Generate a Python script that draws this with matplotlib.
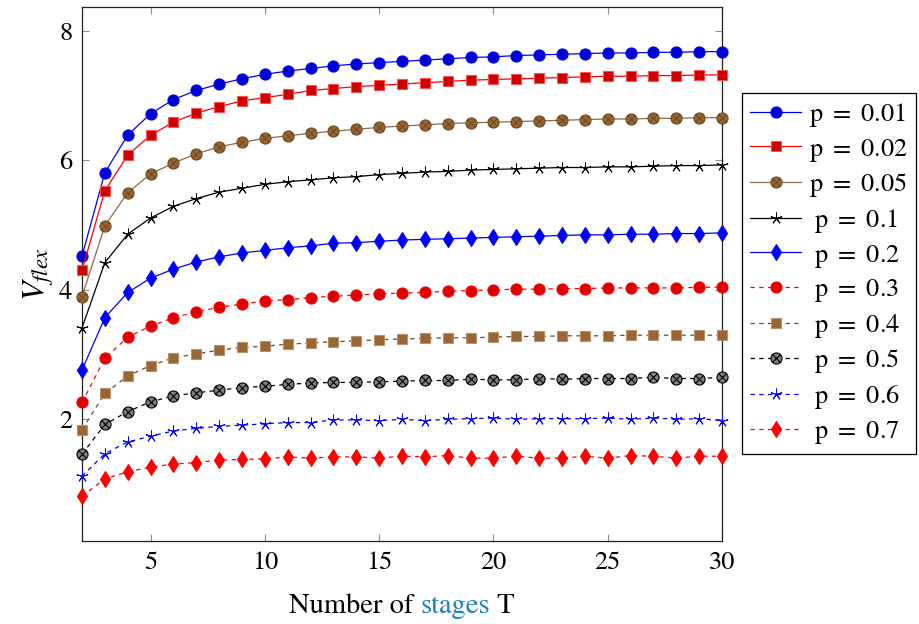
import matplotlib
matplotlib.use("Agg")
import numpy as np
import matplotlib.pyplot as plt
from matplotlib.path import Path
from matplotlib.offsetbox import TextArea, HPacker, AnchoredOffsetbox

plt.rcParams['font.family'] = ['STIXGeneral', 'DejaVu Serif']
plt.rcParams['mathtext.fontset'] = 'stix'

T = list(range(2, 31))

v_001 = [4.52, 5.81, 6.39, 6.72, 6.94, 7.08, 7.18, 7.26, 7.33, 7.38, 7.42, 7.46, 7.49, 7.51, 7.53,
         7.55, 7.57, 7.59, 7.60, 7.62, 7.63, 7.64, 7.65, 7.66, 7.66, 7.67, 7.67, 7.68, 7.68]
v_002 = [4.30, 5.53, 6.08, 6.39, 6.59, 6.73, 6.83, 6.92, 6.97, 7.02, 7.08, 7.11, 7.14, 7.16, 7.18,
         7.20, 7.22, 7.24, 7.25, 7.26, 7.27, 7.28, 7.29, 7.30, 7.30, 7.31, 7.31, 7.32, 7.32]
v_005 = [3.89, 4.99, 5.50, 5.79, 5.96, 6.10, 6.21, 6.28, 6.34, 6.38, 6.42, 6.45, 6.48, 6.51, 6.53,
         6.55, 6.57, 6.58, 6.59, 6.60, 6.61, 6.62, 6.63, 6.64, 6.64, 6.65, 6.65, 6.66, 6.66]
v_01 = [3.41, 4.42, 4.86, 5.11, 5.29, 5.41, 5.51, 5.57, 5.63, 5.67, 5.70, 5.73, 5.75, 5.78, 5.80,
        5.82, 5.83, 5.85, 5.86, 5.87, 5.88, 5.89, 5.89, 5.90, 5.90, 5.91, 5.92, 5.92, 5.93]
v_02 = [2.76, 3.57, 3.96, 4.18, 4.32, 4.43, 4.51, 4.57, 4.61, 4.65, 4.68, 4.72, 4.73, 4.75, 4.77,
        4.78, 4.79, 4.80, 4.81, 4.82, 4.83, 4.84, 4.85, 4.85, 4.86, 4.86, 4.87, 4.87, 4.88]
v_03 = [2.26, 2.94, 3.27, 3.44, 3.57, 3.66, 3.73, 3.78, 3.83, 3.85, 3.88, 3.90, 3.92, 3.94, 3.95,
        3.96, 3.98, 3.99, 4.00, 4.01, 4.01, 4.02, 4.02, 4.03, 4.03, 4.03, 4.03, 4.04, 4.04]
v_04 = [1.84, 2.40, 2.67, 2.83, 2.95, 3.01, 3.07, 3.11, 3.13, 3.16, 3.18, 3.20, 3.21, 3.23, 3.24,
        3.25, 3.26, 3.26, 3.27, 3.28, 3.28, 3.29, 3.29, 3.29, 3.30, 3.30, 3.30, 3.30, 3.30]
v_05 = [1.46, 1.92, 2.12, 2.27, 2.36, 2.41, 2.45, 2.49, 2.51, 2.54, 2.56, 2.57, 2.57, 2.58, 2.59,
        2.60, 2.60, 2.62, 2.61, 2.61, 2.63, 2.62, 2.63, 2.63, 2.63, 2.65, 2.63, 2.63, 2.65]
v_06 = [1.12, 1.47, 1.65, 1.74, 1.82, 1.86, 1.89, 1.91, 1.93, 1.95, 1.95, 1.99, 1.99, 1.98, 2.00,
        1.98, 2.00, 2.01, 2.02, 2.00, 2.01, 2.01, 2.01, 2.02, 2.00, 2.02, 2.00, 2.01, 1.98]
v_07 = [0.81, 1.08, 1.19, 1.26, 1.31, 1.33, 1.37, 1.38, 1.39, 1.42, 1.40, 1.42, 1.42, 1.40, 1.43,
        1.42, 1.44, 1.40, 1.40, 1.43, 1.40, 1.40, 1.43, 1.40, 1.44, 1.43, 1.40, 1.43, 1.43]

labels = ["0.01", "0.02", "0.05", "0.1", "0.2", "0.3", "0.4", "0.5", "0.6", "0.7"]
xticks = [5, 10, 15, 20, 25, 30]
yticks = [2, 4, 6, 8]

# otimes marker: circle with a diagonal cross inside
circ = Path.unit_circle()
d = 0.70
verts = list(circ.vertices) + [(-d, -d), (d, d), (-d, d), (d, -d)]
codes = list(circ.codes) + [Path.MOVETO, Path.LINETO, Path.MOVETO, Path.LINETO]
otimes = Path(np.array(verts), codes)

fig = plt.figure(figsize=(9.19, 6.24), dpi=100)
ax = fig.add_axes([0.0892, 0.133, 0.6964, 0.8558])

lw = 0.9
dash = (0, (3.5, 3.5))
handles = []

def add(y, color, ls, marker, ms, mfc, mec, mew=0.8):
    l, = ax.plot(T, y, color=color, ls=ls, lw=lw, marker=marker, ms=ms, mfc=mfc, mec=mec,
                 mew=mew, clip_on=False, zorder=3)
    handles.append(l)

add(v_001, 'blue', '-', 'o', 8, '#0000d0', 'blue')
add(v_002, 'red', '-', 's', 7, '#cc0000', '#ff5050')
add(v_005, '#8f6a44', '-', otimes, 8, '#996633', '#6e4a26', mew=0.8)
add(v_01, 'black', '-', (5, 2, 0), 8.5, 'black', 'black', mew=0.7)
add(v_02, 'blue', '-', 'd', 8.5, 'blue', 'blue')
add(v_03, 'red', dash, 'o', 8, '#dd0000', 'red')
add(v_04, '#6b4a2a', dash, 's', 7, '#996633', '#b89070')
add(v_05, 'black', dash, otimes, 8, '#808080', 'black', mew=0.8)
add(v_06, 'blue', dash, (5, 2, 0), 8.5, 'blue', 'blue', mew=0.7)
add(v_07, 'red', dash, 'd', 8.5, 'red', 'red')

ax.set_xlim(2, 30)
ax.set_ylim(0.12, 8.37)
ax.set_xticks(xticks)
ax.set_yticks(yticks)
ax.tick_params(direction='in', top=True, right=True, length=5, width=0.8, color='#909090',
               labelsize=19, pad=7)
for s in ax.spines.values():
    s.set_linewidth(0.9)
    s.set_color('#222222')

ax.set_ylabel(r'$V_{flex}$', fontsize=23, labelpad=2)

parts = [TextArea("Number of ", textprops=dict(fontsize=20.5, color='black')),
         TextArea("stages", textprops=dict(fontsize=20.5, color='#1a7fc4')),
         TextArea(" T", textprops=dict(fontsize=20.5, color='black'))]
box = HPacker(children=parts, align="baseline", pad=0, sep=0)
anch = AnchoredOffsetbox(loc='upper center', child=box, frameon=False,
                         bbox_to_anchor=(0.5, -0.088), bbox_transform=ax.transAxes, borderpad=0)
ax.add_artist(anch)

leg_labels = []
for lab in labels:
    pre = r'\;' if len(lab) == 3 else ''
    leg_labels.append(rf'${pre}\mathrm{{p}}\ =\ {lab}$')

leg = fig.legend(handles, leg_labels,
                 loc='upper left', bbox_to_anchor=(742 / 919, 1 - 93 / 624),
                 fontsize=19, frameon=True, fancybox=False, edgecolor='black', framealpha=1,
                 handlelength=1.95, handletextpad=0.3, labelspacing=0.29, borderpad=0.3,
                 borderaxespad=0)
leg.get_frame().set_linewidth(0.9)

fig.savefig("out.png", dpi=100)
